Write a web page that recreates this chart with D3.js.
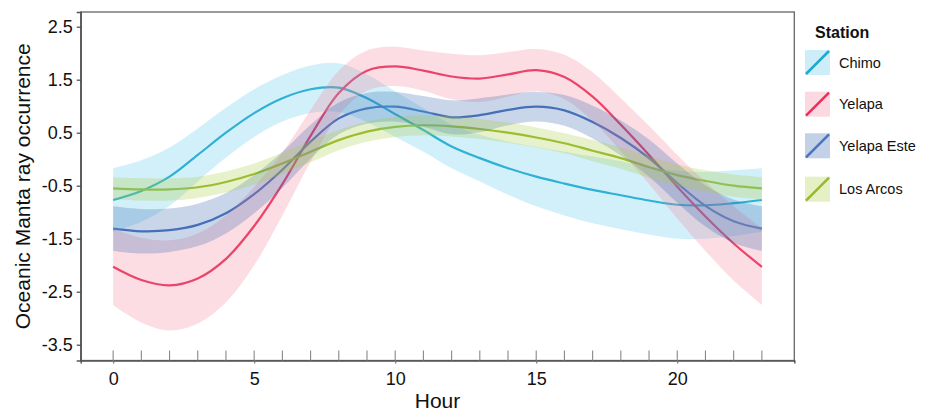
<!DOCTYPE html>
<html><head><meta charset="utf-8">
<script src="https://cdn.jsdelivr.net/npm/d3@7"></script>
<style>
html,body{margin:0;padding:0;background:#fff;}
svg{display:block;font-family:"Liberation Sans",Arial,sans-serif;}
</style></head>
<body><svg id="chart" width="931" height="413"></svg>
<script>
const hours = d3.range(0, 24);
const stations = ["Chimo", "Yelapa", "Yelapa Este", "Los Arcos"];
const xTickLabels = [0, 5, 10, 15, 20];
const yTickLabels = [2.5, 1.5, 0.5, -0.5, -1.5, -2.5, -3.5];

const chimoFit   = [-0.77,-0.60,-0.33,0.08,0.50,0.87,1.15,1.32,1.35,1.15,0.85,0.55,0.24,0.02,-0.17,-0.33,-0.46,-0.58,-0.68,-0.78,-0.86,-0.87,-0.83,-0.77];
const chimoLow   = [-1.37,-1.18,-0.88,-0.42,0.03,0.42,0.71,0.87,0.89,0.70,0.42,0.14,-0.17,-0.42,-0.67,-0.89,-1.06,-1.21,-1.32,-1.42,-1.50,-1.50,-1.45,-1.37];
const chimoHigh  = [-0.17,-0.02,0.22,0.58,0.97,1.32,1.59,1.77,1.81,1.60,1.28,0.96,0.65,0.46,0.33,0.23,0.14,0.05,-0.04,-0.14,-0.22,-0.24,-0.21,-0.17];

const yelapaFit  = [-2.03,-2.28,-2.38,-2.25,-1.88,-1.26,-0.47,0.44,1.25,1.67,1.75,1.67,1.56,1.52,1.60,1.68,1.55,1.18,0.65,0.08,-0.52,-1.08,-1.59,-2.03];
const yelapaLow  = [-2.75,-3.08,-3.23,-3.10,-2.70,-2.00,-1.06,-0.05,0.83,1.29,1.38,1.29,1.13,1.08,1.18,1.28,1.13,0.72,0.15,-0.47,-1.12,-1.73,-2.29,-2.75];
const yelapaHigh = [-1.31,-1.48,-1.53,-1.40,-1.06,-0.52,0.12,0.93,1.67,2.05,2.12,2.05,1.99,1.96,2.02,2.08,1.97,1.64,1.15,0.63,0.08,-0.43,-0.89,-1.31];

const esteFit    = [-1.31,-1.36,-1.34,-1.24,-1.02,-0.66,-0.20,0.33,0.77,0.96,0.99,0.90,0.79,0.83,0.93,0.99,0.92,0.70,0.40,0.02,-0.45,-0.88,-1.17,-1.31];
const esteLow    = [-1.73,-1.78,-1.75,-1.64,-1.40,-1.02,-0.54,0.01,0.47,0.67,0.71,0.61,0.47,0.51,0.64,0.71,0.63,0.39,0.07,-0.33,-0.82,-1.27,-1.58,-1.73];
const esteHigh   = [-0.89,-0.94,-0.93,-0.84,-0.64,-0.30,0.14,0.65,1.07,1.25,1.27,1.19,1.11,1.15,1.22,1.27,1.21,1.01,0.73,0.37,-0.08,-0.49,-0.76,-0.89];

const arcosFit   = [-0.55,-0.57,-0.57,-0.53,-0.43,-0.28,-0.08,0.14,0.36,0.52,0.61,0.64,0.62,0.57,0.50,0.41,0.30,0.16,0.02,-0.15,-0.30,-0.41,-0.50,-0.55];
const arcosLow   = [-0.76,-0.78,-0.78,-0.73,-0.63,-0.48,-0.28,-0.06,0.17,0.33,0.42,0.45,0.43,0.38,0.31,0.22,0.11,-0.04,-0.18,-0.35,-0.50,-0.61,-0.71,-0.76];
const arcosHigh  = [-0.34,-0.36,-0.36,-0.33,-0.23,-0.08,0.12,0.34,0.55,0.71,0.80,0.83,0.81,0.76,0.69,0.60,0.49,0.36,0.22,0.05,-0.10,-0.21,-0.29,-0.34];

const lineColors = ["#1fa9cb", "#e82d5a", "#4a73bb", "#98b82a"];
const bandColors = ["#58c6eb", "#f58098", "#3766b2", "#a8cd3e"];

const series = [
  {name: stations[0], fit: chimoFit, low: chimoLow, high: chimoHigh},
  {name: stations[1], fit: yelapaFit, low: yelapaLow, high: yelapaHigh},
  {name: stations[2], fit: esteFit, low: esteLow, high: esteHigh},
  {name: stations[3], fit: arcosFit, low: arcosLow, high: arcosHigh}
];

const svg = d3.select("#chart");
const L = 80.7, R = 794.3, T = 12, B = 360.5;
const x = d3.scaleLinear().domain([-1.15, 24.15]).range([L, R]);
const y = d3.scaleLinear().domain([-3.798, 2.777]).range([B, T]);

svg.append("rect").attr("x", L).attr("y", T).attr("width", R - L).attr("height", B - T)
  .attr("fill", "#fff").attr("stroke", "#666").attr("stroke-width", 1.3);

const curve = d3.curveCatmullRom.alpha(0.5);
const lineGen = d3.line().x((d, i) => x(hours[i])).y(d => y(d)).curve(curve);
const areaGen = d3.area().x((d, i) => x(hours[i])).y0(d => y(d[0])).y1(d => y(d[1])).curve(curve);

const plot = svg.append("g");
series.forEach((s, k) => {
  plot.append("path").attr("d", lineGen(s.fit)).attr("fill", "none")
    .attr("stroke", lineColors[k]).attr("stroke-width", 2.2);
});
series.forEach((s, k) => {
  const pts = s.low.map((v, i) => [v, s.high[i]]);
  plot.append("path").attr("d", areaGen(pts)).attr("fill", bandColors[k]).attr("fill-opacity", 0.27).attr("stroke", "none");
});

// axes
const fmtY = d => d3.format(".1f")(d).replace("\u2212", "-");
const yAxis = d3.axisLeft(y).tickValues(yTickLabels).tickSize(4).tickPadding(4).tickFormat(fmtY);
const gy = svg.append("g").attr("transform", `translate(${L},0)`).call(yAxis);
gy.select(".domain").attr("stroke", "#555").attr("stroke-width", 1.5);
gy.selectAll(".tick line").attr("stroke", "#444").attr("stroke-width", 1.2);
gy.selectAll(".tick text").attr("font-size", 18).attr("fill", "#111").attr("font-family", "Liberation Sans, Arial, sans-serif");

const xAxis = d3.axisBottom(x).tickValues(xTickLabels).tickSize(3).tickPadding(9).tickFormat(d3.format("d"));
const gx = svg.append("g").attr("transform", `translate(0,${B})`).call(xAxis);
gx.select(".domain").attr("stroke", "#555").attr("stroke-width", 1.5);
gx.selectAll(".tick line").attr("stroke", "#777").attr("stroke-width", 1.2);
gx.selectAll(".tick text").attr("font-size", 18).attr("fill", "#111").attr("font-family", "Liberation Sans, Arial, sans-serif");
// minor hour ticks inside the panel
svg.append("g").selectAll("line").data(hours).join("line")
  .attr("x1", d => x(d)).attr("x2", d => x(d)).attr("y1", B - 10).attr("y2", B)
  .attr("stroke", "#888").attr("stroke-width", 1.1);

svg.append("text").attr("x", (L + R) / 2).attr("y", 408).attr("text-anchor", "middle")
  .attr("font-size", 21).attr("fill", "#111").text("Hour");
svg.append("text").attr("transform", `translate(30,${(T + B) / 2}) rotate(-90)`).attr("text-anchor", "middle")
  .attr("font-size", 21).attr("fill", "#111").text("Oceanic Manta ray occurrence");

// legend
const lg = svg.append("g");
lg.append("text").attr("x", 815).attr("y", 38).attr("font-size", 16).attr("font-weight", "bold").attr("fill", "#111").text("Station");
const keyY = [50, 91.7, 133.3, 176.7];
stations.forEach((s, k) => {
  const g = lg.append("g").attr("transform", `translate(805,${keyY[k]})`);
  g.append("rect").attr("width", 25).attr("height", 25).attr("fill", bandColors[k]).attr("fill-opacity", 0.3);
  g.append("line").attr("x1", 1).attr("y1", 24).attr("x2", 24).attr("y2", 1)
    .attr("stroke", lineColors[k]).attr("stroke-width", 2.5);
  g.append("text").attr("x", 34).attr("y", 12.5).attr("dominant-baseline", "central")
    .attr("font-size", 14.5).attr("fill", "#111").text(s);
});
</script></body></html>
